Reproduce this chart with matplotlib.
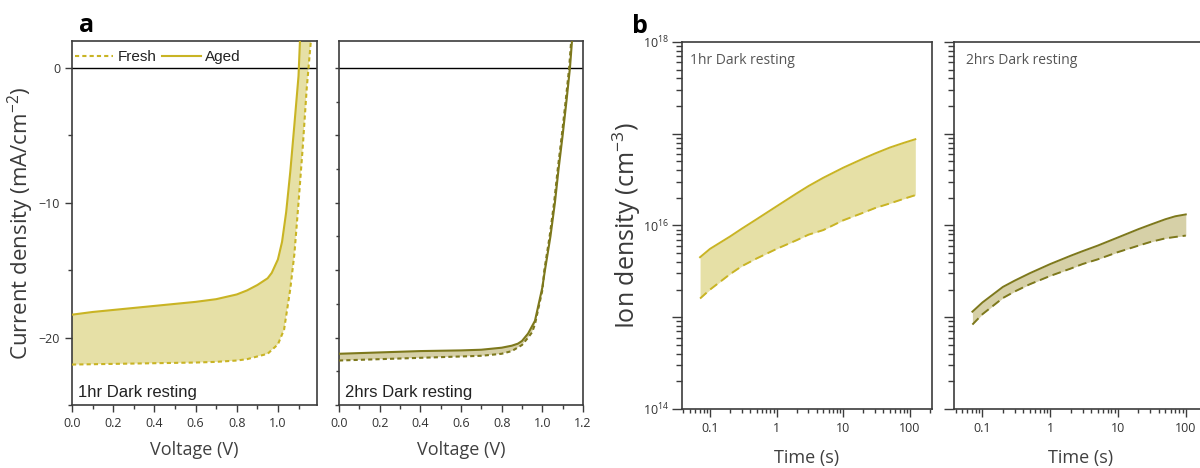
import numpy as np
import matplotlib
matplotlib.use("Agg")
import matplotlib.pyplot as plt
from matplotlib.ticker import MultipleLocator, FixedLocator, FuncFormatter, NullFormatter

plt.rcParams['font.family'] = ['Open Sans', 'DejaVu Sans']
plt.rcParams['mathtext.fontset'] = 'custom'
plt.rcParams['mathtext.rm'] = 'Open Sans'
plt.rcParams['mathtext.it'] = 'Open Sans:italic'
plt.rcParams['mathtext.bf'] = 'Open Sans:bold'

# panel a, 1hr dark resting (J-V)
v_aged_1 = [0, 0.1, 0.2, 0.3, 0.4, 0.5, 0.6, 0.7, 0.8, 0.85, 0.9, 0.95, 0.97, 1.0, 1.02, 1.04, 1.06, 1.08, 1.1, 1.107]
j_aged_1 = [-18.3, -18.1, -17.95, -17.8, -17.65, -17.5, -17.35, -17.15, -16.8, -16.5, -16.1, -15.6, -15.2, -14.2, -12.9, -10.7, -7.7, -4.2, -0.6, 2.0]
v_fresh_1 = [0, 0.2, 0.4, 0.6, 0.7, 0.8, 0.85, 0.9, 0.95, 1.0, 1.03, 1.06, 1.08, 1.1, 1.12, 1.14, 1.16]
j_fresh_1 = [-22.0, -21.95, -21.9, -21.85, -21.8, -21.7, -21.6, -21.4, -21.2, -20.5, -19.4, -16.4, -13.8, -10.0, -6.0, -1.5, 2.0]

# panel a, 2hrs dark resting
v_aged_2 = [0, 0.2, 0.4, 0.6, 0.7, 0.8, 0.85, 0.88, 0.9, 0.93, 0.964, 1.0, 1.013, 1.04, 1.062, 1.08, 1.1, 1.12, 1.136, 1.146]
j_aged_2 = [-21.2, -21.1, -21.0, -20.95, -20.9, -20.75, -20.6, -20.45, -20.25, -19.7, -18.75, -16.3, -15.0, -12.5, -10.0, -7.5, -5.0, -2.3, 0.0, 2.0]
v_fresh_2 = [0, 0.2, 0.4, 0.6, 0.7, 0.8, 0.85, 0.9, 0.93, 0.95, 0.964, 1.0, 1.01, 1.036, 1.058, 1.076, 1.096, 1.116, 1.132, 1.142]
j_fresh_2 = [-21.7, -21.6, -21.5, -21.4, -21.35, -21.2, -21.0, -20.55, -20.0, -19.6, -19.0, -16.5, -15.0, -12.5, -10.0, -7.5, -5.0, -2.3, 0.0, 2.0]

# panel b, ion density vs time
t_1 = [0.071, 0.1, 0.2, 0.3, 0.5, 1, 2, 3, 5, 10, 20, 30, 50, 80, 120]
n_aged_1 = [4.51e15, 5.56e15, 7.59e15, 9.23e15, 1.17e16, 1.62e16, 2.24e16, 2.69e16, 3.31e16,
            4.27e16, 5.37e16, 6.10e16, 7.08e16, 7.94e16, 8.71e16]
n_fresh_1 = [1.60e15, 2.00e15, 2.95e15, 3.60e15, 4.37e15, 5.56e15, 6.92e15, 7.94e15, 8.91e15,
             1.14e16, 1.38e16, 1.55e16, 1.74e16, 1.95e16, 2.14e16]
t_2 = [0.071, 0.1, 0.2, 0.3, 0.5, 1, 2, 3, 5, 10, 20, 30, 50, 70, 100]
n_aged_2 = [1.15e15, 1.45e15, 2.14e15, 2.51e15, 3.02e15, 3.80e15, 4.68e15, 5.25e15, 6.03e15,
            7.41e15, 9.12e15, 1.02e16, 1.17e16, 1.26e16, 1.32e16]
n_fresh_2 = [8.32e14, 1.08e15, 1.62e15, 1.91e15, 2.29e15, 2.82e15, 3.39e15, 3.80e15, 4.27e15,
             5.13e15, 6.03e15, 6.61e15, 7.24e15, 7.50e15, 7.76e15]

gold = '#c9b424'
gold_fill = '#e6e0a6'
olive = '#7d781c'
olive_fill = '#d6d0a7'
spine_c = '#3c3c3c'
txt_c = '#333333'

fig = plt.figure(figsize=(12, 4.68), dpi=100)
axa1 = fig.add_axes([0.06, 0.1346, 0.2042, 0.7778])
axa2 = fig.add_axes([0.2825, 0.1346, 0.2033, 0.7778])
axb1 = fig.add_axes([0.5683, 0.1261, 0.2083, 0.7842])
axb2 = fig.add_axes([0.795, 0.1261, 0.2117, 0.7842])


def style(ax):
    for s in ax.spines.values():
        s.set_color(spine_c)
        s.set_linewidth(1.2)
    ax.tick_params(which='both', direction='out', color=spine_c, labelcolor=txt_c,
                   labelsize=9, top=False, right=False)
    ax.tick_params(which='major', length=5, width=1)
    ax.tick_params(which='minor', length=3, width=1)


# ---- panel a
for ax, va, ja, vf, jf, c, cf, lab in [
        (axa1, v_aged_1, j_aged_1, v_fresh_1, j_fresh_1, gold, gold_fill, '1hr Dark resting'),
        (axa2, v_aged_2, j_aged_2, v_fresh_2, j_fresh_2, olive, olive_fill, '2hrs Dark resting')]:
    ax.fill(np.concatenate([va, vf[::-1]]), np.concatenate([ja, jf[::-1]]), color=cf, lw=0, zorder=1)
    ax.plot(vf, jf, color=c, lw=1.5, ls=(0, (2, 1.5)), label='Fresh', zorder=3)
    ax.plot(va, ja, color=c, lw=1.5, label='Aged', zorder=3)
    ax.axhline(0, color='black', lw=1, zorder=2)
    ax.set_ylim(-25, 2)
    style(ax)
    ax.xaxis.set_major_locator(MultipleLocator(0.2))
    ax.xaxis.set_minor_locator(MultipleLocator(0.1))
    ax.xaxis.set_major_formatter(FuncFormatter(lambda x, p: f'{x:.1f}'))
    ax.set_xlabel('Voltage (V)', fontsize=13, color='#404040', labelpad=8)
    ax.text(0.024, 0.015, lab, transform=ax.transAxes, fontsize=12, color='#222222',
            family=['Liberation Sans', 'DejaVu Sans'], ha='left', va='bottom')

axa1.set_xlim(0, 1.19)
axa2.set_xlim(0, 1.2)
axa1.yaxis.set_major_locator(FixedLocator([0, -10, -20]))
axa1.yaxis.set_minor_locator(FixedLocator([-5, -15, -25]))
axa1.yaxis.set_major_formatter(FuncFormatter(lambda y, p: f'{y:.0f}'.replace('-', '\u2212')))
axa1.set_ylabel('Current density (mA/cm$^{-2}$)', fontsize=16, color='#3a3a3a', labelpad=2)
axa2.yaxis.set_major_locator(MultipleLocator(5))
axa2.yaxis.set_minor_locator(MultipleLocator(2.5))
axa2.tick_params(axis='y', which='major', length=3)
axa2.tick_params(axis='y', which='minor', length=2)
axa2.set_yticklabels([])

axa1.legend(loc='upper left', bbox_to_anchor=(-0.027, 1.0), ncol=2, frameon=False,
            prop={'family': ['Liberation Sans', 'DejaVu Sans'], 'size': 11},
            handlelength=2.5, handletextpad=0.3, columnspacing=0.4, borderaxespad=0.2,
            labelcolor='#222222')

axa1.text(0.03, 1.025, 'a', transform=axa1.transAxes, fontsize=18, fontweight='bold',
          ha='left', va='baseline', color='black')

# ---- panel b
minor_log = [k * 10.0 ** e for e in range(-3, 19) for k in range(2, 10)]
for ax, t, na, nf, c, cf, lab, tx in [
        (axb1, t_1, n_aged_1, n_fresh_1, gold, gold_fill, '1hr Dark resting', 0.032),
        (axb2, t_2, n_aged_2, n_fresh_2, olive, olive_fill, '2hrs Dark resting', 0.046)]:
    ax.fill_between(t, nf, na, color=cf, lw=0, zorder=1)
    ax.plot(t, nf, color=c, lw=1.4, ls=(0, (4.5, 2.5)), zorder=3)
    ax.plot(t, na, color=c, lw=1.4, zorder=3)
    ax.set_xscale('log')
    ax.set_yscale('log')
    ax.set_xlim(0.038, 213)
    ax.set_ylim(1e14, 1e18)
    style(ax)
    ax.xaxis.set_major_locator(FixedLocator([0.1, 1, 10, 100]))
    ax.xaxis.set_major_formatter(FuncFormatter(lambda x, p: f'{x:g}'))
    ax.xaxis.set_minor_locator(FixedLocator(minor_log))
    ax.xaxis.set_minor_formatter(NullFormatter())
    ax.yaxis.set_major_locator(FixedLocator([1e14, 1e15, 1e16, 1e17, 1e18]))
    ax.yaxis.set_minor_locator(FixedLocator(minor_log))
    ax.yaxis.set_minor_formatter(NullFormatter())
    ax.tick_params(axis='y', which='major', length=7)
    ax.tick_params(axis='y', which='minor', length=4, width=1)
    ax.tick_params(axis='x', which='major', length=6)
    ax.tick_params(axis='x', which='minor', length=3, width=1)
    ax.set_xlabel('Time (s)', fontsize=13, color='#404040', labelpad=10)
    ax.text(tx, 0.95, lab, transform=ax.transAxes, fontsize=10,
            color='#555555', ha='left', va='center')

axb1.yaxis.set_major_formatter(FuncFormatter(
    lambda y, p: f'$10^{{{int(round(np.log10(y)))}}}$' if int(round(np.log10(y))) % 2 == 0 else ''))
axb1.tick_params(axis='y', labelsize=9, pad=2)
axb2.yaxis.set_major_formatter(NullFormatter())
axb1.set_ylabel('Ion density (cm$^{-3}$)', fontsize=18, color='#3a3a3a', labelpad=0)

axb1.text(-0.2, 1.025, 'b', transform=axb1.transAxes, fontsize=18, fontweight='bold',
          ha='left', va='baseline', color='black')

fig.savefig('out.png', dpi=100)
